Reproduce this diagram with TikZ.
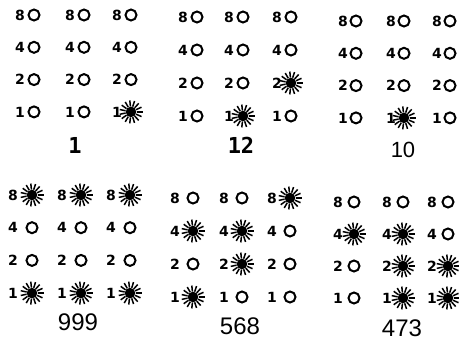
\documentclass[tikz,border=0pt]{standalone}
\usepackage{fontspec}
\newfontfamily\celltt[BoldFont={DejaVu Sans Mono Bold}]{DejaVu Sans Mono}
\newfontfamily\cellsf[BoldFont={DejaVu Sans Bold}]{DejaVu Sans}
\newfontfamily\labsans{Liberation Sans}
\tikzset{
  dig/.style={font=\cellsf\bfseries\fontsize{14}{14}\selectfont, inner sep=0pt, anchor=center},
  offbulb/.style={draw, line width=2pt, circle, minimum size=11pt, inner sep=0pt},
  toplab/.style={font=\celltt\bfseries\fontsize{22}{22}\selectfont, inner sep=0pt},
  botlab/.style={font=\labsans\fontsize{24}{24}\selectfont, inner sep=0pt},
  onbulb/.pic={
    \fill (0,0) circle (5.3pt);
    \foreach \a in {0,24,...,336}
      \draw[line width=1.5pt] (\a:5.5pt) -- (\a:11.5pt);
  }
}
\begin{document}
\begin{tikzpicture}[x=1pt,y=-1pt]
\useasboundingbox[fill=white] (0,0) rectangle (459,340);
\foreach \pn/\xa/\xb/\xc/\g/\ya/\dy/\va/\vb/\vc in {
  p1/20/70/117/14/15/32.3/0/0/1,
  p2/183/229/277/14/17/33/0/1/2,
  p3/343/391/437/13/21/32.3/0/1/0,
  p4/13/62/111/19/195/32.7/9/9/9,
  p5/175/224/272/18/198/33/5/6/8,
  p6/338/387/432/16/202/32/4/7/3}{
  \foreach \col/\cx/\cv in {1/\xa/\va, 2/\xb/\vb, 3/\xc/\vc}{
    \foreach \row/\w in {0/8,1/4,2/2,3/1}{
      \pgfmathtruncatemacro\lit{mod(floor(\cv/\w),2)}
      \pgfmathsetmacro\yy{\ya+\row*\dy}
      \node[dig] (\pn c\col r\row) at (\cx,\yy) {\w};
      \ifnum\lit=1
        \pic at (\cx+\g,\yy) {onbulb};
      \else
        \node[offbulb] (\pn b\col r\row) at (\cx+\g,\yy) {};
      \fi
    }
  }
}
\node[toplab] (l1) at (75,145) {1};
\node[toplab] (l12) at (241,145.5) {12};
\node[font=\labsans\fontsize{22}{22}\selectfont, inner sep=0pt] (l10) at (403,150) {10};
\node[botlab] (l999) at (78,322) {999};
\node[botlab] (l568) at (240,326) {568};
\node[botlab] (l473) at (402,328) {473};
\end{tikzpicture}
\end{document}
